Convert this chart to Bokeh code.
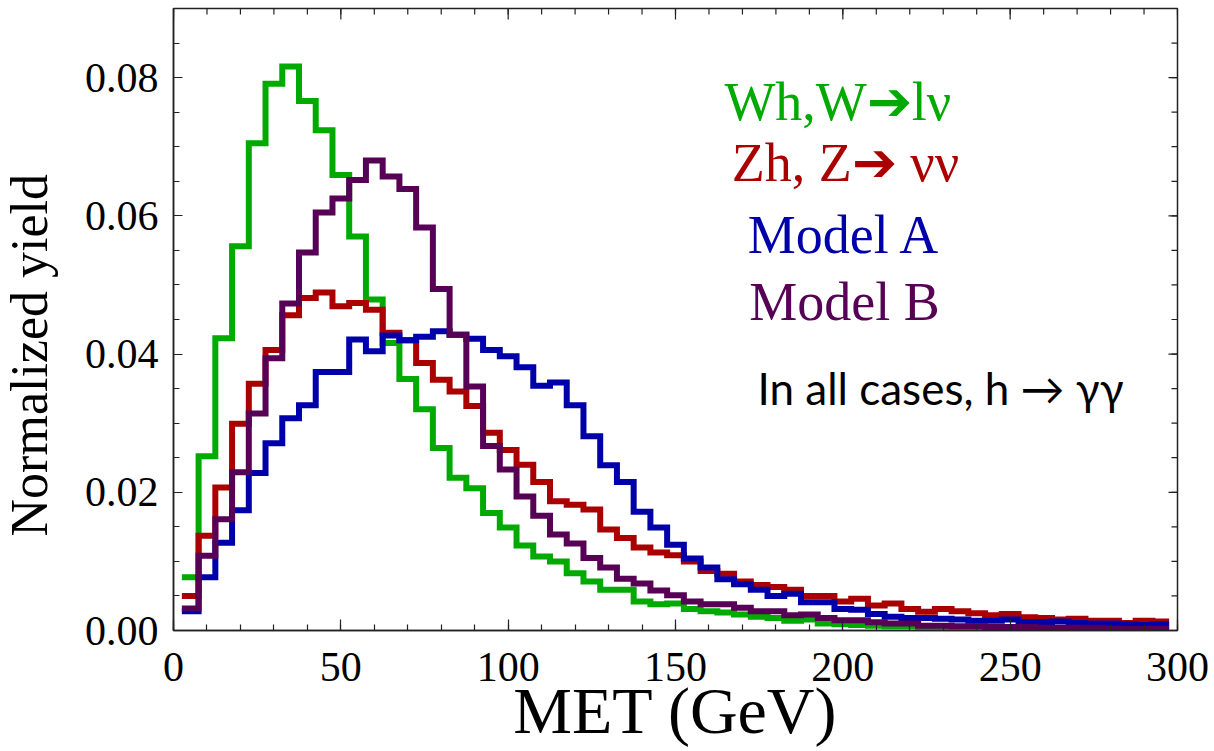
import numpy as np
from bokeh.plotting import figure
from bokeh.models import FixedTicker, PrintfTickFormatter, Label, Range1d, Div
from bokeh.layouts import row
from bokeh.embed import file_html
from bokeh.resources import INLINE

# bin centres (GeV), bin width 5
bin_centers = list(range(5, 300, 5))
bin_width = 5

wh_lnu = [0.0077, 0.0252, 0.0423, 0.0556, 0.0705, 0.0791, 0.0816, 0.0766, 0.0724, 0.0659,
          0.0570, 0.0479, 0.0416, 0.0364, 0.0320, 0.0264, 0.0221, 0.0206, 0.0170, 0.0149,
          0.0123, 0.0107, 0.0100, 0.0083, 0.0071, 0.0059, 0.0059, 0.0042, 0.0038, 0.0039,
          0.0031, 0.0028, 0.0026, 0.0023, 0.0020, 0.0018, 0.0014, 0.0016, 0.0010, 0.0009,
          0.0008, 0.0007, 0.0006, 0.0006, 0.0005, 0.0005, 0.0004, 0.0004, 0.0004, 0.0003,
          0.0003, 0.0003, 0.0002, 0.0002, 0.0002, 0.0002, 0.0001, 0.0001, 0.0001]

zh_nunu = [0.0050, 0.0137, 0.0207, 0.0299, 0.0357, 0.0406, 0.0456, 0.0481, 0.0489, 0.0469,
           0.0474, 0.0464, 0.0431, 0.0420, 0.0387, 0.0363, 0.0346, 0.0325, 0.0286, 0.0261,
           0.0240, 0.0215, 0.0187, 0.0182, 0.0175, 0.0146, 0.0134, 0.0120, 0.0113, 0.0109,
           0.0100, 0.0086, 0.0082, 0.0071, 0.0066, 0.0063, 0.0059, 0.0050, 0.0050, 0.0042,
           0.0046, 0.0036, 0.0039, 0.0031, 0.0027, 0.0031, 0.0028, 0.0025, 0.0022, 0.0024,
           0.0019, 0.0018, 0.0016, 0.0017, 0.0014, 0.0014, 0.0011, 0.0014, 0.0013]

model_a = [0.0028, 0.0077, 0.0127, 0.0174, 0.0228, 0.0271, 0.0307, 0.0326, 0.0374, 0.0374,
           0.0421, 0.0404, 0.0427, 0.0420, 0.0425, 0.0433, 0.0428, 0.0422, 0.0406, 0.0397,
           0.0381, 0.0354, 0.0359, 0.0326, 0.0281, 0.0239, 0.0215, 0.0172, 0.0149, 0.0124,
           0.0104, 0.0091, 0.0074, 0.0067, 0.0059, 0.0050, 0.0053, 0.0041, 0.0041, 0.0031,
           0.0030, 0.0024, 0.0020, 0.0018, 0.0018, 0.0017, 0.0016, 0.0014, 0.0014, 0.0016,
           0.0012, 0.0012, 0.0013, 0.0011, 0.0010, 0.0010, 0.0009, 0.0008, 0.0009]

model_b = [0.0032, 0.0108, 0.0161, 0.0229, 0.0314, 0.0394, 0.0473, 0.0547, 0.0605, 0.0625,
           0.0652, 0.0680, 0.0657, 0.0639, 0.0583, 0.0494, 0.0428, 0.0353, 0.0267, 0.0233,
           0.0194, 0.0166, 0.0139, 0.0126, 0.0105, 0.0091, 0.0075, 0.0068, 0.0058, 0.0051,
           0.0042, 0.0038, 0.0038, 0.0033, 0.0028, 0.0028, 0.0022, 0.0023, 0.0018, 0.0015,
           0.0015, 0.0012, 0.0010, 0.0010, 0.0007, 0.0007, 0.0006, 0.0006, 0.0005, 0.0005,
           0.0005, 0.0004, 0.0004, 0.0004, 0.0004, 0.0003, 0.0002, 0.0002, 0.0003]

x_major_ticks = [0, 50, 100, 150, 200, 250, 300]
x_minor_ticks = list(range(0, 301, 10))
y_major_ticks = [0.00, 0.02, 0.04, 0.06, 0.08]
y_minor_ticks = [i * 0.005 for i in range(0, 19)]

X_MIN, X_MAX = 0, 300
Y_MIN, Y_MAX = 0, 0.09

series = [
    ("Wh,W➔lν", wh_lnu, "#00aa00"),
    ("Zh, Z➔ νν", zh_nunu, "#aa0000"),
    ("Model A", model_a, "#0000aa"),
    ("Model B", model_b, "#560056"),
]

SERIF = "Liberation Serif"
AXC = "#222222"
LABEL_W = 60

p = figure(width=1214 - LABEL_W, height=751, output_backend="svg", toolbar_location=None,
           x_range=Range1d(X_MIN, X_MAX), y_range=Range1d(Y_MIN, Y_MAX),
           min_border_left=173 - LABEL_W, min_border_right=37, min_border_top=8,
           min_border_bottom=121, x_axis_label="MET (GeV)", margin=0)
p.grid.visible = False
p.background_fill_color = "white"
p.border_fill_color = "white"
p.outline_line_color = AXC
p.outline_line_width = 1.5

xt = FixedTicker(ticks=x_major_ticks, minor_ticks=x_minor_ticks)
yt = FixedTicker(ticks=y_major_ticks, minor_ticks=y_minor_ticks)

p.xaxis.ticker = xt
p.yaxis.ticker = yt
p.yaxis.formatter = PrintfTickFormatter(format="%.2f")

for ax in [p.xaxis[0], p.yaxis[0]]:
    ax.axis_line_color = AXC
    ax.axis_line_width = 1.5
    ax.major_tick_line_color = AXC
    ax.minor_tick_line_color = AXC
    ax.major_tick_line_width = 1.2
    ax.minor_tick_line_width = 1.2
    ax.major_tick_out = 0
    ax.minor_tick_out = 0
    ax.major_label_text_font = SERIF
    ax.major_label_text_font_size = "42px"
    ax.major_label_text_color = "black"
    ax.axis_label_text_font_style = "normal"
    ax.axis_label_text_color = "black"

p.xaxis.axis_label_text_font = SERIF
p.xaxis.major_tick_in = 11
p.xaxis.minor_tick_in = 6
p.yaxis.major_tick_in = 9
p.yaxis.minor_tick_in = 6
p.xaxis.major_label_standoff = 22
p.yaxis.major_label_standoff = 15
p.xaxis.axis_label_text_font_size = "66px"
p.xaxis.axis_label_standoff = -10

# ticks on the top and right edges of the frame (drawn inward, clipped by the frame)
p.scatter(x=x_minor_ticks, y=[Y_MAX] * len(x_minor_ticks), marker="dash", angle=np.pi / 2,
          size=12, line_color=AXC, line_width=1.2)
p.scatter(x=x_major_ticks, y=[Y_MAX] * len(x_major_ticks), marker="dash", angle=np.pi / 2,
          size=22, line_color=AXC, line_width=1.2)
p.scatter(x=[X_MAX] * len(y_minor_ticks), y=y_minor_ticks, marker="dash",
          size=12, line_color=AXC, line_width=1.2)
p.scatter(x=[X_MAX] * len(y_major_ticks), y=y_major_ticks, marker="dash",
          size=18, line_color=AXC, line_width=1.2)

edges = [c - bin_width / 2 for c in bin_centers] + [bin_centers[-1] + bin_width / 2]
for name, vals, col in series:
    p.step(x=edges, y=vals + [vals[-1]], mode="after", line_width=6, line_color=col,
           line_join="miter")

# legend-like coloured labels
label_pos = [(198.5, 0.0764), (200.8, 0.0677), (200.5, 0.0572), (200.5, 0.0475)]
for (name, vals, col), (lx, ly) in zip(series, label_pos):
    p.add_layout(Label(x=lx, y=ly, text=name, text_font=SERIF, text_font_size="54px",
                       text_color=col, text_align="center", text_baseline="alphabetic"))

p.add_layout(Label(x=229.2, y=0.0351, text="In all cases, h → γγ", text_font="Lato",
                   text_font_size="44px", text_color="black", text_align="center",
                   text_baseline="alphabetic"))

# vertical serif y-axis title
ylabel = Div(
    text=('<div style="writing-mode:vertical-rl; transform:rotate(180deg); '
          "font-family:'Liberation Serif', serif; font-size:52px; line-height:60px; "
          'white-space:nowrap; color:#000; margin-top:174px;">Normalized yield</div>'),
    width=LABEL_W, height=751, margin=0, styles={"background-color": "white"})

layout = row(ylabel, p, spacing=0)
open("out.html", "w").write(file_html(layout, INLINE))
